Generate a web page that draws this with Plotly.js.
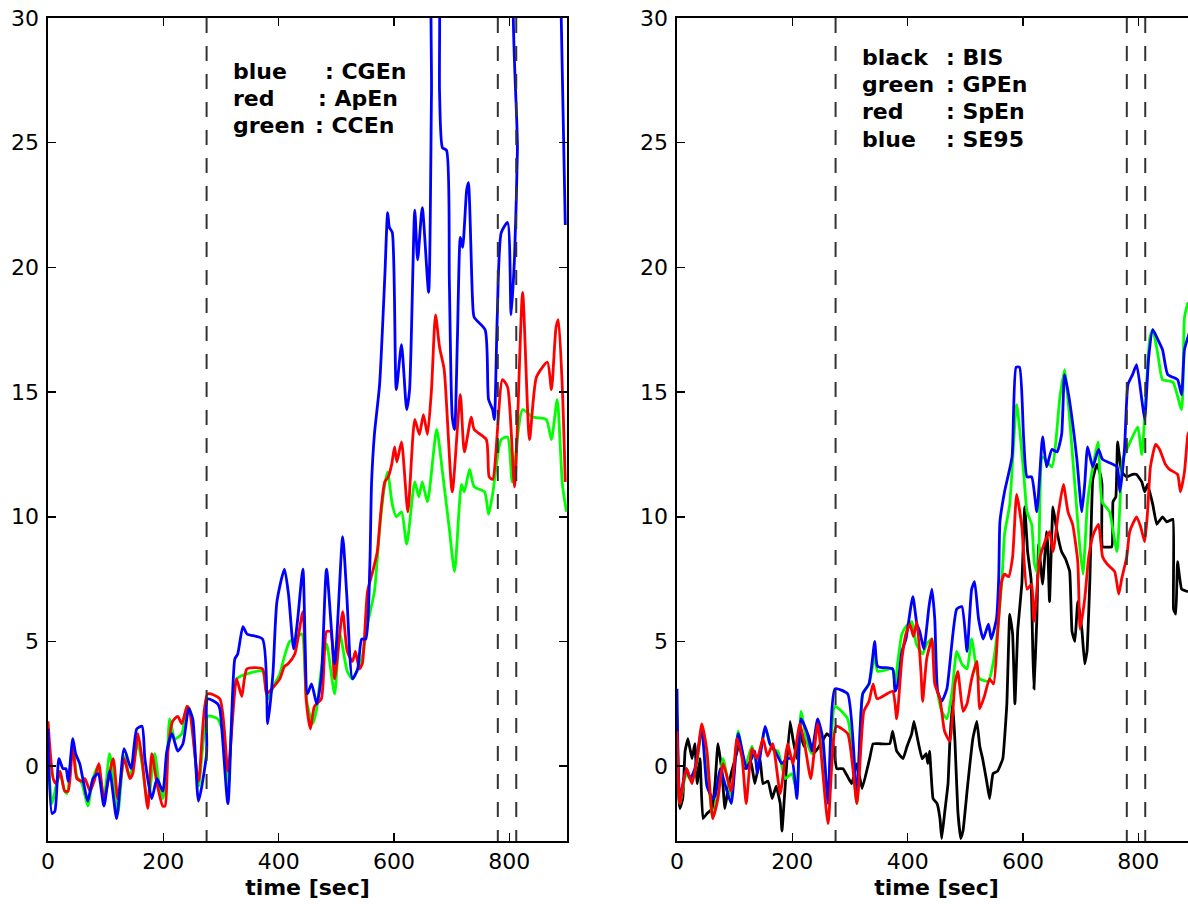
<!DOCTYPE html>
<html>
<head>
<meta charset="utf-8">
<script src="https://cdn.plot.ly/plotly-3.0.1.min.js"></script>
<style>
html,body{margin:0;padding:0;overflow:hidden;background:#fff;}
#chart{width:1210px;height:904px;}
</style>
</head>
<body>
<div id="chart"></div>
<script>
// ---------- data (time in seconds) ----------
// Left panel
const timeCGEn = [0,7,12,19,26,31,35,43,48,55,62,69,78,87,97,107,119,132,144,154,163,168,180,189,199,206,215,225,234,244,251,261,275,277,294,298,312,324,329,338,345,372,381,390,397,410,417,426,433,442,450,457,466,474,483,497,511,518,528,537,544,551,558,561,566,575,584,589,592,597,604,613,622,627,636,641,649,660,665,668,675,679,684,691,696,701,705,710,715,719,726,729,736,739,758,764,771,774,779,786,797,803,809,814,817,887,890,897];
const CGEn = [1.5,-1.9,-1.8,0.3,-0.1,-0.1,-0.6,1.1,0.5,0.1,-0.7,-1.4,-0.5,-0.3,-1.6,-0.2,-2.1,0.7,-0.1,1.5,1.6,0.3,-1.3,-0.5,-1.0,0.6,1.3,0.6,0.9,2.3,1.9,-1.4,0.5,2.7,2.5,2.3,-1.5,4.3,4.5,5.6,5.3,5.1,1.7,3.7,6.6,7.9,6.9,4.7,5.9,7.9,2.9,3.3,2.5,3.6,7.9,4.1,9.2,6.9,3.5,3.9,5.1,5.1,8.0,11.3,13.3,15.3,19.6,22.2,21.6,21.4,15.1,16.9,14.3,15.1,22.3,20.3,22.4,19.0,27,33,33,27,24.8,24.7,19.4,14.0,13.5,17.2,21.2,20.8,23.1,23.4,18.8,18.0,17.5,14.7,14.3,13.9,18.0,21.4,21.8,18.1,20.4,24.7,33,33,30,21.7];

const timeApEn = [0,9,14,21,29,35,43,50,59,64,73,80,88,97,113,121,132,142,147,156,163,173,180,189,199,203,208,216,225,232,241,245,261,277,298,312,327,336,345,372,379,388,402,410,416,428,442,448,455,462,474,483,490,497,511,519,528,533,540,545,554,563,571,578,584,590,596,601,605,613,624,636,644,651,658,665,672,679,687,701,715,722,734,739,760,765,771,788,797,809,823,835,847,866,873,881,885,892,897];
const ApEn = [1.8,-0.5,-0.7,-0.2,-1.0,-1.0,0.9,-0.5,-0.6,-0.5,-1.0,-0.6,0.1,-1.3,0.3,-1.3,0.3,-0.5,-0.3,1.3,0.3,-1.7,0.5,-0.7,-1.6,-1.6,0.6,1.8,2.0,1.7,2.4,2.3,-0.6,2.9,2.7,-0.2,3.5,2.8,3.9,3.9,2.9,3.1,3.5,4.0,4.1,4.5,6.2,2.6,1.5,2.4,2.7,5.4,5.4,3.5,6.2,4.6,4.2,4.6,3.9,4.1,7.0,7.8,8.6,10.4,11.4,11.6,12.1,12.8,12.2,13.0,10.2,13.9,13.3,14.1,13.3,15.1,18.1,16.8,15.9,11.0,14.9,12.6,14.0,13.5,13.1,11.6,11.5,15.5,15.2,11.2,19.0,13.1,15.6,16.2,15.1,17.6,17.9,15.1,11.4];

const timeCCEn = [0,7,14,21,29,33,43,50,59,69,78,87,97,107,121,132,142,156,163,173,185,192,199,205,211,220,232,241,247,261,277,294,304,312,327,345,372,381,393,402,410,419,428,440,448,459,466,474,483,497,506,519,528,544,554,566,575,584,589,597,604,613,622,636,643,649,658,674,684,696,705,717,722,731,739,757,764,771,786,797,805,823,840,864,873,883,892,899];
const CCEn = [0.5,-1.5,-0.8,-0.3,-1.0,-1.1,0.9,-0.4,-0.7,-1.6,-0.5,0.0,-1.3,0.5,-1.9,0.4,-0.4,0.9,0.1,-1.5,0.5,-0.6,-1.3,-0.6,1.9,1.1,1.3,2.4,2.2,-0.8,2.0,1.9,1.3,-1.0,3.5,3.7,3.8,2.7,3.3,3.7,4.4,5.0,5.1,5.3,2.7,1.7,2.3,3.9,4.9,2.9,5.3,3.8,3.5,4.3,5.7,7.0,9.5,11.3,11.8,10.5,10.0,10.2,8.9,11.4,10.8,11.4,10.6,13.5,11.8,9.5,7.8,11.3,11.0,11.9,11.2,11.0,10.1,10.9,13.1,13.2,11.4,14.3,14.0,13.9,13.1,14.7,11.3,10.2];

// Right panel
const timeBIS = [0,5,10,14,19,26,31,35,40,45,52,61,66,71,78,83,88,95,101,109,118,128,135,144,149,158,165,172,179,182,187,196,201,208,213,220,227,236,244,260,269,277,288,303,312,321,334,340,352,369,374,381,392,399,407,411,418,425,432,435,438,444,451,456,459,464,470,473,478,482,487,492,496,503,508,513,520,525,530,537,542,548,556,565,572,577,582,586,591,598,603,608,614,617,619,624,627,634,641,643,646,652,659,667,674,681,685,690,695,702,707,711,716,721,728,733,737,738,754,756,761,764,771,780,790,797,806,811,816,825,832,842,849,860,861,865,868,875,886];
const BIS = [-0.2,-1.7,-1.3,0.6,1.1,0.3,0.9,-0.7,0.3,-2.1,-1.9,-1.7,-0.7,0.9,-0.2,-1.7,-1.0,-0.2,0.3,1.0,-0.1,0.2,-0.7,0.3,-0.7,-0.6,-1.3,-0.8,-1.5,-2.6,-1.0,1.8,1.1,0.3,1.4,0.8,1.3,0.5,0.7,1.3,1.1,-0.1,-0.1,-0.7,0.1,-0.9,0.3,0.9,0.9,0.9,1.4,0.6,0.3,0.8,1.3,1.8,1.0,0.3,0.5,0.1,0.6,-1.3,-1.5,-2.1,-2.9,-1.9,-0.7,0.9,2.6,1.0,-1.8,-2.9,-2.6,-1.0,0.1,1.1,1.8,0.8,0.3,-0.6,-1.3,-0.3,-0.2,0.3,2.5,6.1,5.3,2.5,5.5,7.3,10.4,8.6,7.5,4.6,3.1,5.9,8.9,7.3,9.4,8.8,6.6,10.4,9.4,8.6,8.3,7.8,5.4,5.0,6.6,5.5,4.1,4.6,7.5,11.5,12.1,11.8,11.3,8.8,8.8,10.6,10.8,13.0,11.8,11.6,11.7,11.7,11.4,11.0,11.3,10.5,9.7,10.0,9.8,9.9,6.3,6.1,8.2,7.1,7.0];

const timeGPEn = [0,5,16,25,35,43,52,62,71,80,94,106,118,130,139,153,165,175,188,199,208,215,225,234,244,252,262,274,296,312,322,333,343,348,374,378,383,390,397,407,415,426,433,442,451,459,468,477,485,494,503,511,520,525,540,548,556,564,568,577,589,601,607,615,620,626,634,650,664,672,681,698,704,712,721,730,737,750,763,773,782,799,806,820,825,834,842,860,875,880,886];
const GPEn = [2.0,-1.5,-0.3,-0.6,0.2,1.5,0.0,-2.1,-1.0,0.3,-1.2,1.4,0.0,0.8,0.0,1.5,0.7,0.6,-0.5,-0.3,-1.0,2.2,1.0,0.5,1.8,1.0,-1.3,2.4,1.9,-1.5,2.9,3.3,4.4,3.8,3.9,3.2,4.2,5.3,5.6,5.8,4.9,4.5,4.9,5.1,3.1,2.2,1.9,3.0,4.6,4.1,3.9,5.1,3.8,3.5,3.4,4.1,5.5,7.7,9.3,10.5,14.5,11.8,10.2,9.7,8.1,7.7,12.4,12.0,14.8,15.9,13.9,8.9,7.7,10.6,12.0,13.0,10.6,10.2,8.6,12.3,12.8,13.6,12.5,17.2,17.5,16.5,15.5,15.4,14.3,18.0,18.6];

const timeSpEn = [0,5,12,17,26,35,43,52,62,71,80,94,104,113,120,130,139,149,157,166,179,187,192,201,213,222,232,244,262,276,296,312,324,333,340,347,374,381,390,397,404,410,416,423,426,433,442,447,456,464,473,482,487,496,503,511,520,525,533,542,549,556,563,568,575,582,589,598,607,615,619,629,638,646,652,661,670,678,686,695,699,707,714,722,731,738,746,759,766,771,780,785,797,804,811,816,821,830,837,847,854,868,873,880,886,890];
const SpEn = [1.4,-1.5,-0.5,-0.1,-0.7,0.3,1.7,0.6,-2.1,-1.3,0.1,-1.0,1.1,0.3,-1.5,0.7,0.3,1.1,0.4,0.9,-1.1,0.2,0.9,0.1,1.7,0.8,-0.5,1.7,-2.3,1.6,1.3,-1.5,2.2,2.6,3.3,2.7,3.0,1.9,4.3,5.3,5.7,5.2,5.8,3.8,2.6,4.3,5.1,3.3,2.7,1.4,1.0,3.3,3.8,2.2,2.5,3.5,4.2,2.3,2.8,3.5,3.3,5.3,7.4,7.7,7.6,8.4,10.9,9.6,7.1,7.3,5.8,8.3,9.0,9.4,8.6,10.1,11.3,10.2,9.7,8.2,5.5,6.7,8.4,9.3,9.7,8.4,8.1,7.8,6.9,7.5,8.4,9.4,10.0,9.6,9.0,10.2,12.0,12.9,12.7,12.1,11.9,11.7,11.0,11.8,13.3,13.5];

const timeSE95 = [0,5,16,23,31,43,52,62,66,75,83,94,106,121,135,139,153,161,170,182,190,199,208,215,225,234,244,253,262,274,296,312,322,333,343,348,374,378,383,390,397,409,416,421,428,437,442,447,452,459,468,485,494,503,511,516,523,531,540,545,554,558,560,568,581,588,594,601,607,615,624,634,641,650,659,667,672,679,693,702,707,712,721,731,738,763,768,776,782,790,797,806,811,818,825,834,842,851,868,875,880,890];
const SE95 = [3.1,-1.3,-0.1,-0.5,-0.1,1.5,-0.8,-1.3,-1.2,-0.1,-0.7,-1.5,1.3,-0.1,0.6,-0.3,1.6,0.9,0.6,0.1,0.3,0.3,-1.3,1.9,1.4,0.6,1.9,1.1,-1.5,3.1,2.9,-1.3,2.9,3.3,5.0,4.0,3.9,3.0,3.3,4.6,5.1,6.8,5.7,5.4,4.7,6.4,7.1,5.9,3.0,2.6,3.1,6.3,6.4,4.6,7.1,7.4,5.9,5.1,5.7,5.1,5.9,7.6,9.8,11.0,12.4,16.0,16.0,13.2,11.6,11.6,10.2,13.2,12.0,12.7,12.6,13.3,15.7,14.9,12.4,10.2,11.3,12.8,12.0,12.7,12.3,12.0,11.0,12.7,15.3,15.7,16.1,14.7,13.9,16.4,17.5,17.1,16.7,15.7,15.5,14.9,16.7,17.5];

// event markers (seconds) and tick labels
const eventTimes = [275, 780, 812];
const xTicks = [0, 200, 400, 600, 800];
const yTicks = [0, 5, 10, 15, 20, 25, 30];
const leftLegend = [["blue", ": CGEn"], ["red", ": ApEn"], ["green", ": CCEn"]];
const rightLegend = [["black", ": BIS"], ["green", ": GPEn"], ["red", ": SpEn"], ["blue", ": SE95"]];

// ---------- figure ----------
const LW = 2.8;
function line(x, y, color, xa, ya, sm) {
  return {x: x, y: y, type: 'scatter', mode: 'lines', xaxis: xa, yaxis: ya,
          line: {color: color, width: LW, shape: 'spline', smoothing: sm}, hoverinfo: 'skip'};
}
const traces = [
  line(timeCCEn, CCEn, '#00ff00', 'x', 'y', 0.6),
  line(timeApEn, ApEn, '#ff0000', 'x', 'y', 0.6),
  line(timeCGEn, CGEn, '#0000ff', 'x', 'y', 0.6),
  line(timeBIS, BIS, '#000000', 'x2', 'y2', 0.3),
  line(timeGPEn, GPEn, '#00ff00', 'x2', 'y2', 0.5),
  line(timeSE95, SE95, '#0000ff', 'x2', 'y2', 0.5),
  line(timeSpEn, SpEn, '#ff0000', 'x2', 'y2', 0.5)
];

const tickFont = {family: 'DejaVu Sans', size: 22, color: '#000'};
function xAxis(domain, anchor) {
  return {domain: domain, anchor: anchor, range: [0, 900], tickvals: xTicks,
    ticks: 'inside', ticklen: 8, tickwidth: 1.5, tickcolor: '#000',
    showline: true, linewidth: 2, linecolor: '#000', mirror: 'ticks',
    showgrid: false, zeroline: false, fixedrange: true,
    tickfont: tickFont,
    title: {text: '<b>time [sec]</b>', standoff: 6,
            font: {family: 'DejaVu Sans', size: 22, color: '#000'}}};
}
function yAxis(anchor) {
  return {domain: [0, 1], anchor: anchor, range: [-3, 30], tickvals: yTicks,
    ticks: 'inside', ticklen: 8, tickwidth: 1.5, tickcolor: '#000',
    showline: true, linewidth: 2, linecolor: '#000', mirror: 'ticks',
    showgrid: false, zeroline: false, fixedrange: true, showticklabels: false};
}

const shapes = [];
[['x', 'y'], ['x2', 'y2']].forEach(function (p) {
  eventTimes.forEach(function (t) {
    shapes.push({type: 'line', xref: p[0], yref: p[1] + ' domain', x0: t, x1: t, y0: 1, y1: 0,
      line: {color: '#333333', width: 2, dash: '15px,13px'}});
  });
});

const annotations = [];
// y tick labels placed just left of each panel's y axis
[['x', 'y'], ['x2', 'y2']].forEach(function (p) {
  yTicks.forEach(function (v) {
    annotations.push({xref: p[0], yref: p[1], x: 0, y: v, xanchor: 'right', yanchor: 'middle',
      xshift: -7, text: String(v), showarrow: false, font: tickFont});
  });
});

const annFont = {family: 'DejaVu Sans', size: 22, color: '#000'};
const leftY = [27.85, 26.77, 25.68];
const leftColonX = [476, 464, 459];
leftLegend.forEach(function (row, i) {
  annotations.push({xref: 'x', yref: 'y', x: 317, y: leftY[i], xanchor: 'left', yanchor: 'middle',
    text: '<b>' + row[0] + '</b>', showarrow: false, font: annFont});
  annotations.push({xref: 'x', yref: 'y', x: leftColonX[i], y: leftY[i], xanchor: 'left', yanchor: 'middle',
    text: '<b>' + row[1] + '</b>', showarrow: false, font: annFont});
});
const rightY = [28.43, 27.35, 26.27, 25.14];
rightLegend.forEach(function (row, i) {
  annotations.push({xref: 'x2', yref: 'y2', x: 317, y: rightY[i], xanchor: 'left', yanchor: 'middle',
    text: '<b>' + row[0] + '</b>', showarrow: false, font: annFont});
  annotations.push({xref: 'x2', yref: 'y2', x: 463, y: rightY[i], xanchor: 'left', yanchor: 'middle',
    text: '<b>' + row[1] + '</b>', showarrow: false, font: annFont});
});

const layout = {
  width: 1210, height: 904,
  margin: {l: 48, r: 14, t: 18, b: 63},
  paper_bgcolor: '#ffffff', plot_bgcolor: '#ffffff',
  showlegend: false,
  font: {family: 'DejaVu Sans', size: 22, color: '#000'},
  xaxis: xAxis([0, 0.4521], 'y'),
  yaxis: yAxis('x'),
  xaxis2: xAxis([0.5479, 1], 'y2'),
  yaxis2: yAxis('x2'),
  shapes: shapes,
  annotations: annotations
};

Plotly.newPlot('chart', traces, layout, {displayModeBar: false, staticPlot: true});
</script>
</body>
</html>
